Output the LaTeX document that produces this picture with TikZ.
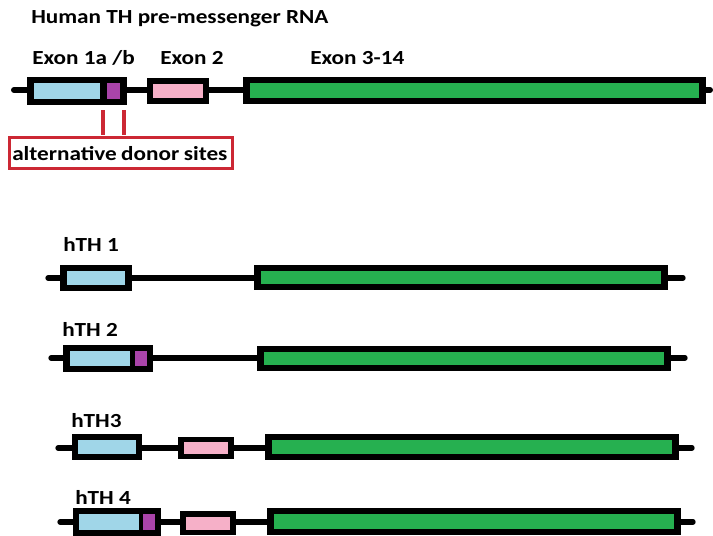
\documentclass[tikz,border=0pt]{standalone}
\usepackage{fontspec}
\setmainfont{Carlito}[FakeStretch=1.16]
\definecolor{exblue}{RGB}{160,214,232}
\definecolor{expink}{RGB}{246,176,200}
\definecolor{expurp}{RGB}{170,68,170}
\definecolor{exgreen}{RGB}{38,176,80}
\definecolor{sitered}{RGB}{204,40,52}
\tikzset{
  intronline/.style={draw=black, line width=4pt, line cap=round},
  outerbox/.style={fill=black},
  lbl/.style={font=\fontsize{15}{17}\selectfont\bfseries, inner sep=0pt, anchor=west},
}
\begin{document}
\begin{tikzpicture}[x=0.75pt,y=-0.75pt]
\useasboundingbox (0,0) rectangle (713,535);

% title
\node[lbl] (title) at (31,19) {Human TH pre-messenger RNA};

% ---------- pre-mRNA ----------
\node[lbl] (l1) at (32,58) {Exon 1a /b};
\node[lbl] (l2) at (160,58) {Exon 2};
\node[lbl] (l3) at (310,58) {Exon 3-14};
\path[intronline, line width=4.5pt] (14,90) -- (710,90);
\fill[outerbox] (27,77) rectangle (127,105);
\fill[exblue] (34,83) rectangle (100,99);
\fill[expurp] (107,83) rectangle (120,99);
\fill[outerbox] (147,78) rectangle (209,104);
\fill[expink] (153,84) rectangle (203,98);
\fill[outerbox] (243,77) rectangle (706,104);
\fill[exgreen] (250,83) rectangle (699,98);

% donor sites
\node[draw=sitered, line width=2.4pt, inner sep=0pt, anchor=north west,
      minimum height=31*0.75pt, text width=223*0.75pt, align=left] (donor) at (8,136)
      {\hspace{2pt}\fontsize{15}{17}\selectfont\bfseries alternative donor sites};
\draw[sitered, line width=3pt] (103,110) -- (103,135);
\draw[sitered, line width=3pt] (124,110) -- (124,135);

% ---------- hTH 1 ----------
\node[lbl] (h1) at (63,244) {hTH 1};
\path[intronline] (48,278) -- (683,278);
\fill[outerbox] (60,265) rectangle (132,291);
\fill[exblue] (67,271) rectangle (125,285);
\fill[outerbox] (254,265) rectangle (668,290);
\fill[exgreen] (261,271) rectangle (661,284);

% ---------- hTH 2 ----------
\node[lbl] (h2) at (62,329) {hTH 2};
\path[intronline] (51,358) -- (685,358);
\fill[outerbox] (63,345) rectangle (153,372);
\fill[exblue] (70,351) rectangle (130,366);
\fill[expurp] (135,351) rectangle (147,366);
\fill[outerbox] (257,346) rectangle (671,371);
\fill[exgreen] (264,352) rectangle (664,365);

% ---------- hTH3 ----------
\node[lbl] (h3) at (71,421) {hTH3};
\path[intronline] (58,448) -- (692,448);
\fill[outerbox] (72,434) rectangle (142,460);
\fill[exblue] (78,440) rectangle (136,454);
\fill[outerbox] (178,437) rectangle (234,459);
\fill[expink] (184,442) rectangle (228,454);
\fill[outerbox] (265,434) rectangle (679,460);
\fill[exgreen] (272,440) rectangle (672,454);

% ---------- hTH 4 ----------
\node[lbl] (h4) at (75,497) {hTH 4};
\path[intronline] (60,522) -- (693,522);
\fill[outerbox] (73,508) rectangle (161,536);
\fill[exblue] (79,514) rectangle (139,530);
\fill[expurp] (143,514) rectangle (155,530);
\fill[outerbox] (180,511) rectangle (236,535);
\fill[expink] (186,517) rectangle (230,530);
\fill[outerbox] (267,508) rectangle (681,535);
\fill[exgreen] (274,514) rectangle (674,529);
\end{tikzpicture}
\end{document}
